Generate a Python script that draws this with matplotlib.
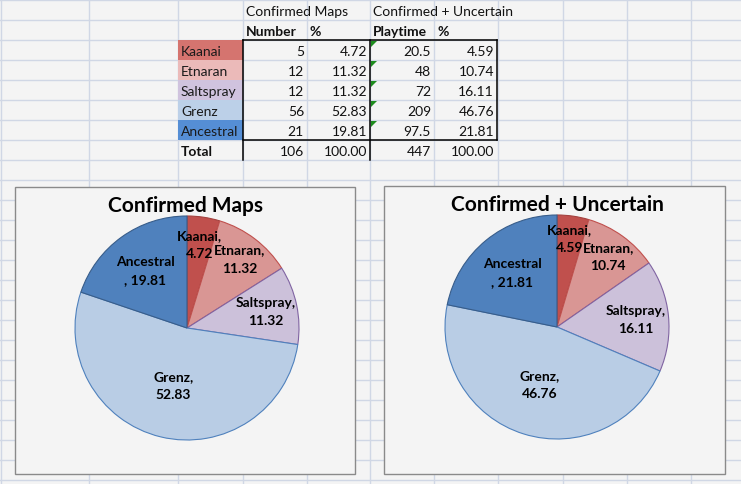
import numpy as np
import matplotlib.pyplot as plt
from matplotlib.patches import Rectangle, Polygon

# datos de la hoja
names = ['Kaanai', 'Etnaran', 'Saltspray', 'Grenz', 'Ancestral']
confirmed = [5, 12, 12, 56, 21]
playtime = [20.5, 48, 72, 209, 97.5]

pie_colors = ['#C0504D', '#D99694', '#CCC1DA', '#B9CDE5', '#4F81BD']
edge_colors = ['#A3423F', '#C0504D', '#8064A2', '#4F81BD', '#385D8A']
cell_colors = ['#D5746F', '#EBBAB9', '#D0C3DE', '#BCD0E8', '#558ED5']

# distancia de cada etiqueta al centro (como la coloca Excel)
dist_cm = [0.76, 0.78, 0.72, 0.52, 0.64]
dist_cu = [0.80, 0.78, 0.71, 0.53, 0.63]

plt.rcParams['font.family'] = ['Lato', 'DejaVu Sans']

W, H = 741, 485
fig = plt.figure(figsize=(W / 100, H / 100), dpi=100)
fig.patch.set_facecolor('#F4F4F4')

# fondo tipo hoja de cálculo, en píxeles
bg = fig.add_axes([0, 0, 1, 1])
bg.set_xlim(0, W)
bg.set_ylim(H, 0)
bg.axis('off')

col_x = [1, 89, 178, 243, 307, 370, 434, 498, 563, 627, 691]
for x in col_x:
    bg.plot([x, x], [0, H], color='#D0D7E5', lw=1, zorder=1)
for y in range(1, H, 20):
    bg.plot([0, W], [y, y], color='#D0D7E5', lw=1, zorder=1)

# tabla
total_cm = sum(confirmed)
total_cu = sum(playtime)
pct_cm = [v / total_cm * 100 for v in confirmed]
pct_cu = [v / total_cu * 100 for v in playtime]

fs = 10
tc = '#111111'
bg.text(246, 12, 'Confirmed Maps', fontsize=fs, va='center', color=tc, zorder=3)
bg.text(373, 12, 'Confirmed + Uncertain', fontsize=fs, va='center', color=tc, zorder=3)
bg.text(246, 32, 'Number', fontsize=fs, weight='bold', va='center', color=tc, zorder=3)
bg.text(310, 32, '%', fontsize=fs, weight='bold', va='center', color=tc, zorder=3)
bg.text(373, 32, 'Playtime', fontsize=fs, weight='bold', va='center', color=tc, zorder=3)
bg.text(437, 32, '%', fontsize=fs, weight='bold', va='center', color=tc, zorder=3)

def fmt(v):
    return ('%g' % v)

for i, n in enumerate(names):
    y0 = 41 + 20 * i
    yc = y0 + 11
    bg.add_patch(Rectangle((178, y0), 65, 20, facecolor=cell_colors[i], edgecolor='none', zorder=2))
    bg.text(181, yc, n, fontsize=fs, va='center', color='#1A1A1A', zorder=3)
    bg.text(304, yc, fmt(confirmed[i]), fontsize=fs, va='center', ha='right', color=tc, zorder=3)
    bg.text(367, yc, '%.2f' % pct_cm[i], fontsize=fs, va='center', ha='right', color=tc, zorder=3)
    bg.text(431, yc, fmt(playtime[i]), fontsize=fs, va='center', ha='right', color=tc, zorder=3)
    bg.text(494, yc, '%.2f' % pct_cu[i], fontsize=fs, va='center', ha='right', color=tc, zorder=3)
    bg.add_patch(Polygon([(371, y0 + 1), (377, y0 + 1), (371, y0 + 7)], closed=True,
                         facecolor='#1E8C1E', edgecolor='none', zorder=3))

yt = 152
bg.text(181, yt, 'Total', fontsize=fs, weight='bold', va='center', color=tc, zorder=3)
bg.text(304, yt, fmt(total_cm), fontsize=fs, va='center', ha='right', color=tc, zorder=3)
bg.text(367, yt, '%.2f' % sum(pct_cm), fontsize=fs, va='center', ha='right', color=tc, zorder=3)
bg.text(431, yt, fmt(total_cu), fontsize=fs, va='center', ha='right', color=tc, zorder=3)
bg.text(494, yt, '%.2f' % sum(pct_cu), fontsize=fs, va='center', ha='right', color=tc, zorder=3)

# bordes negros
bk = dict(color='black', lw=1.1, zorder=4, solid_capstyle='projecting')
bg.plot([243, 497], [41, 41], **bk)
bg.plot([243, 497], [141, 141], **bk)
bg.plot([243, 243], [41, 161], **bk)
bg.plot([370, 370], [41, 161], **bk)
bg.plot([497, 497], [41, 141], **bk)

# marcos de los gráficos
for (x0, y0, x1, y1) in [(15, 188, 355, 475), (384, 187, 725, 475)]:
    bg.add_patch(Rectangle((x0, y0), x1 - x0, y1 - y0, facecolor='#F4F4F4',
                           edgecolor='#8A8A8A', lw=1.0, zorder=5))

bg.text(185, 206, 'Confirmed Maps', fontsize=15, weight='bold', ha='center', va='center', zorder=6)
bg.text(557, 205, 'Confirmed + Uncertain', fontsize=15, weight='bold', ha='center', va='center', zorder=6)

def pie_chart(cx, cy, r, values, pcts, dists):
    ax = fig.add_axes([(cx - r) / W, 1 - (cy + r) / H, 2 * r / W, 2 * r / H])
    wedges, _ = ax.pie(values, colors=pie_colors, startangle=90, counterclock=False,
                       radius=1, wedgeprops=dict(linewidth=0.8))
    for w, ec in zip(wedges, edge_colors):
        w.set_edgecolor(ec)
    for i, w in enumerate(wedges):
        ang = np.deg2rad((w.theta1 + w.theta2) / 2)
        if names[i] == 'Ancestral':
            lab = 'Ancestral\n, %.2f' % pcts[i]
        else:
            lab = '%s,\n%.2f' % (names[i], pcts[i])
        ax.text(dists[i] * np.cos(ang), dists[i] * np.sin(ang), lab, ha='center', va='center',
                fontsize=10, weight='bold', color='black', linespacing=1.6)
    ax.set_xlim(-1, 1)
    ax.set_ylim(-1, 1)
    ax.axis('off')
    return ax

pie_chart(187, 329, 112, confirmed, pct_cm, dist_cm)
pie_chart(557, 328, 112, playtime, pct_cu, dist_cu)

fig.savefig('out.png', dpi=100, facecolor=fig.get_facecolor())
